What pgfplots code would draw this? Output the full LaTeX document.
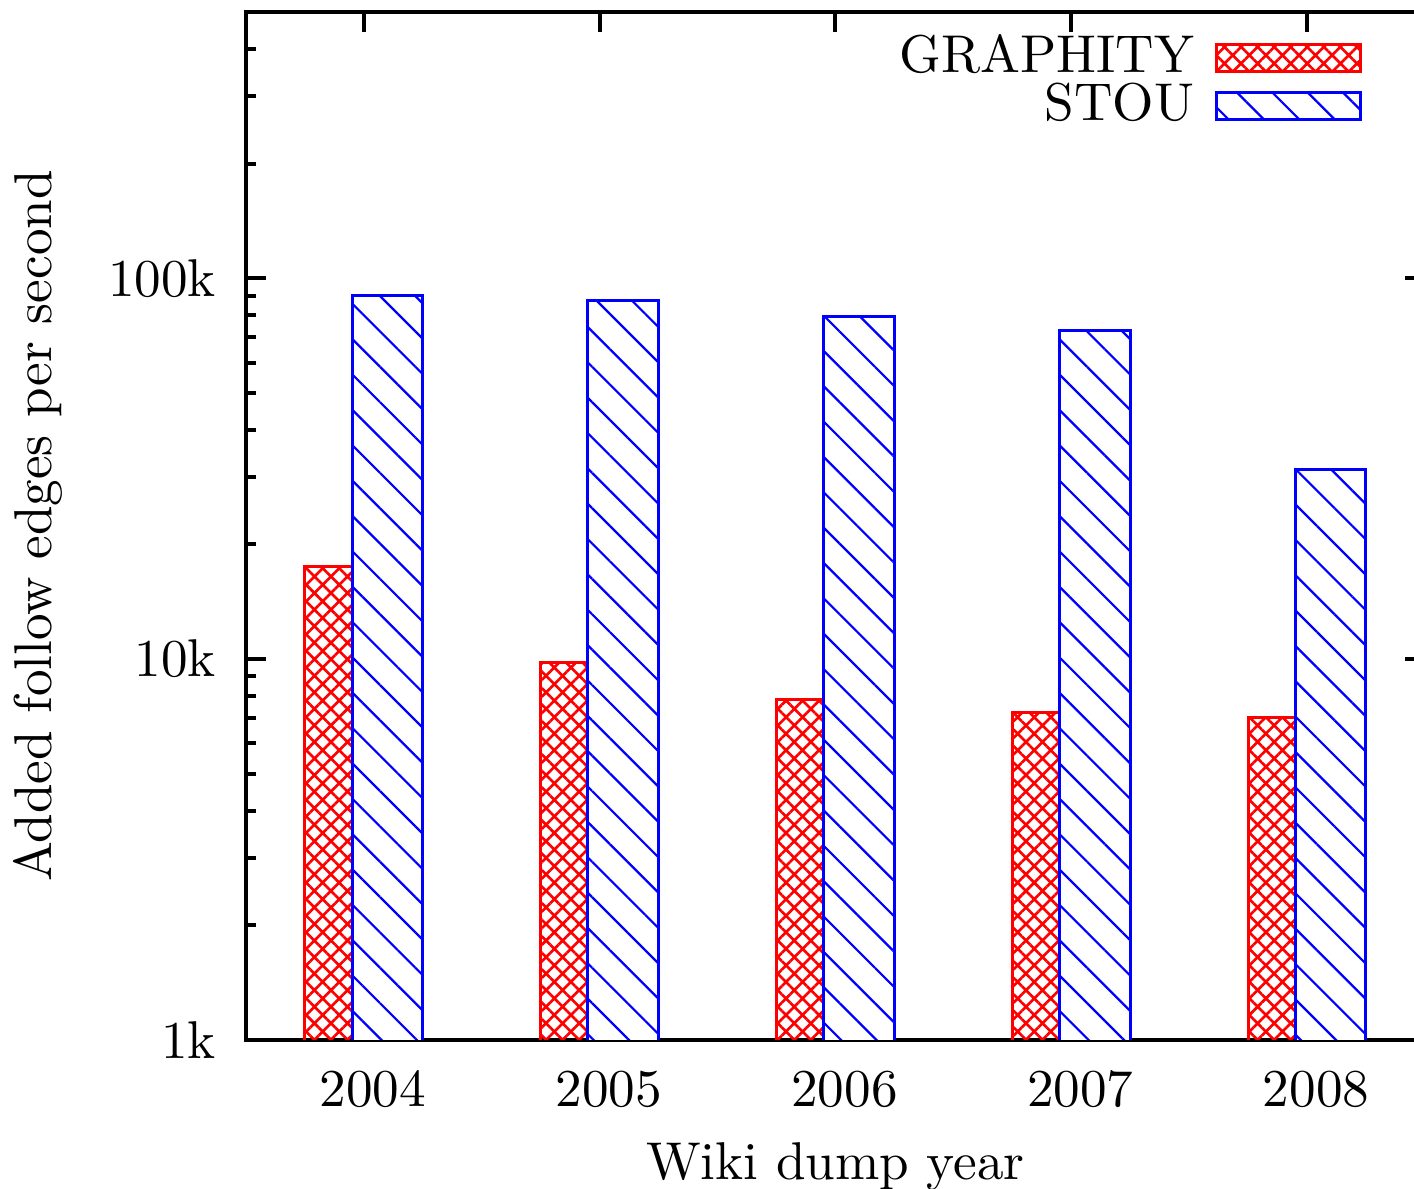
\documentclass[border=0pt]{standalone}
\usepackage{pgfplots}
\pgfplotsset{compat=1.18}
\usetikzlibrary{patterns.meta}
\pgfplotsset{mybox legend/.style={/pgfplots/legend image code/.code={\draw[##1] (0pt,-3.3pt) rectangle (27pt,1.8pt);}}}
\begin{document}
\begin{tikzpicture}
\useasboundingbox (-46.25pt,-28.0pt) rectangle (219.6pt,195.5pt);
\begin{axis}[
  scale only axis,
  width=221.65pt, height=193.26pt,
  xmin=-0.5, xmax=4.5,
  ymode=log, ymin=1000, ymax=500000,
  ybar,
  xtick={0,1,2,3,4},
  xticklabels={2004,2005,2006,2007,2008},
  ytick={1000,10000,100000},
  yticklabels={\mbox{1k},\mbox{10k},\mbox{100k}},
  minor ytick={2000,3000,4000,5000,6000,7000,8000,9000,20000,30000,40000,50000,60000,70000,80000,90000,200000,300000,400000},
  tick align=inside,
  major tick length=3.76pt,
  minor tick length=1.88pt,
  every tick/.style={line width=0.75pt, black},
  axis line style={line width=0.75pt, black},
  xticklabel pos=bottom, yticklabel pos=left,
  xticklabel style={yshift=-2.3pt, xshift=1.7pt},
  yticklabel style={xshift=-2.1pt},
  xlabel={Wiki dump year},
  ylabel={Added follow edges per second},
  every axis x label/.style={at={(axis description cs:0.5,-0.136)}, anchor=base},
  every axis y label/.style={at={(axis description cs:-0.1647,0.5)}, rotate=90, anchor=base},
  legend cell align=right,
  legend plot pos=right,
  legend style={draw=none, fill=none, inner sep=0pt, at={(axis description cs:0.9475,0.983)}, anchor=north east, nodes={inner sep=1pt, text height=6.9pt, text depth=0pt}, row sep=0.15pt, /tikz/column sep=3pt},
]
\addplot[bar width=0.3, bar shift=-0.1, draw=red, line width=0.56pt,
  pattern={Hatch[angle=45,distance=2.2pt,line width=0.5pt]}, pattern color=red,
  mybox legend]
  coordinates {(0,17530) (1,9810) (2,7830) (3,7250) (4,7030)};
\addlegendentry{GRAPHITY}
\addplot[bar width=0.3, bar shift=0.1, draw=blue, line width=0.56pt, fill=white,
  postaction={pattern={Lines[angle=-45,distance=4.7pt,line width=0.42pt]}, pattern color=blue},
  mybox legend]
  coordinates {(0,90200) (1,87500) (2,79100) (3,73000) (4,31500)};
\addlegendentry{STOU}
\end{axis}
\end{tikzpicture}
\end{document}
